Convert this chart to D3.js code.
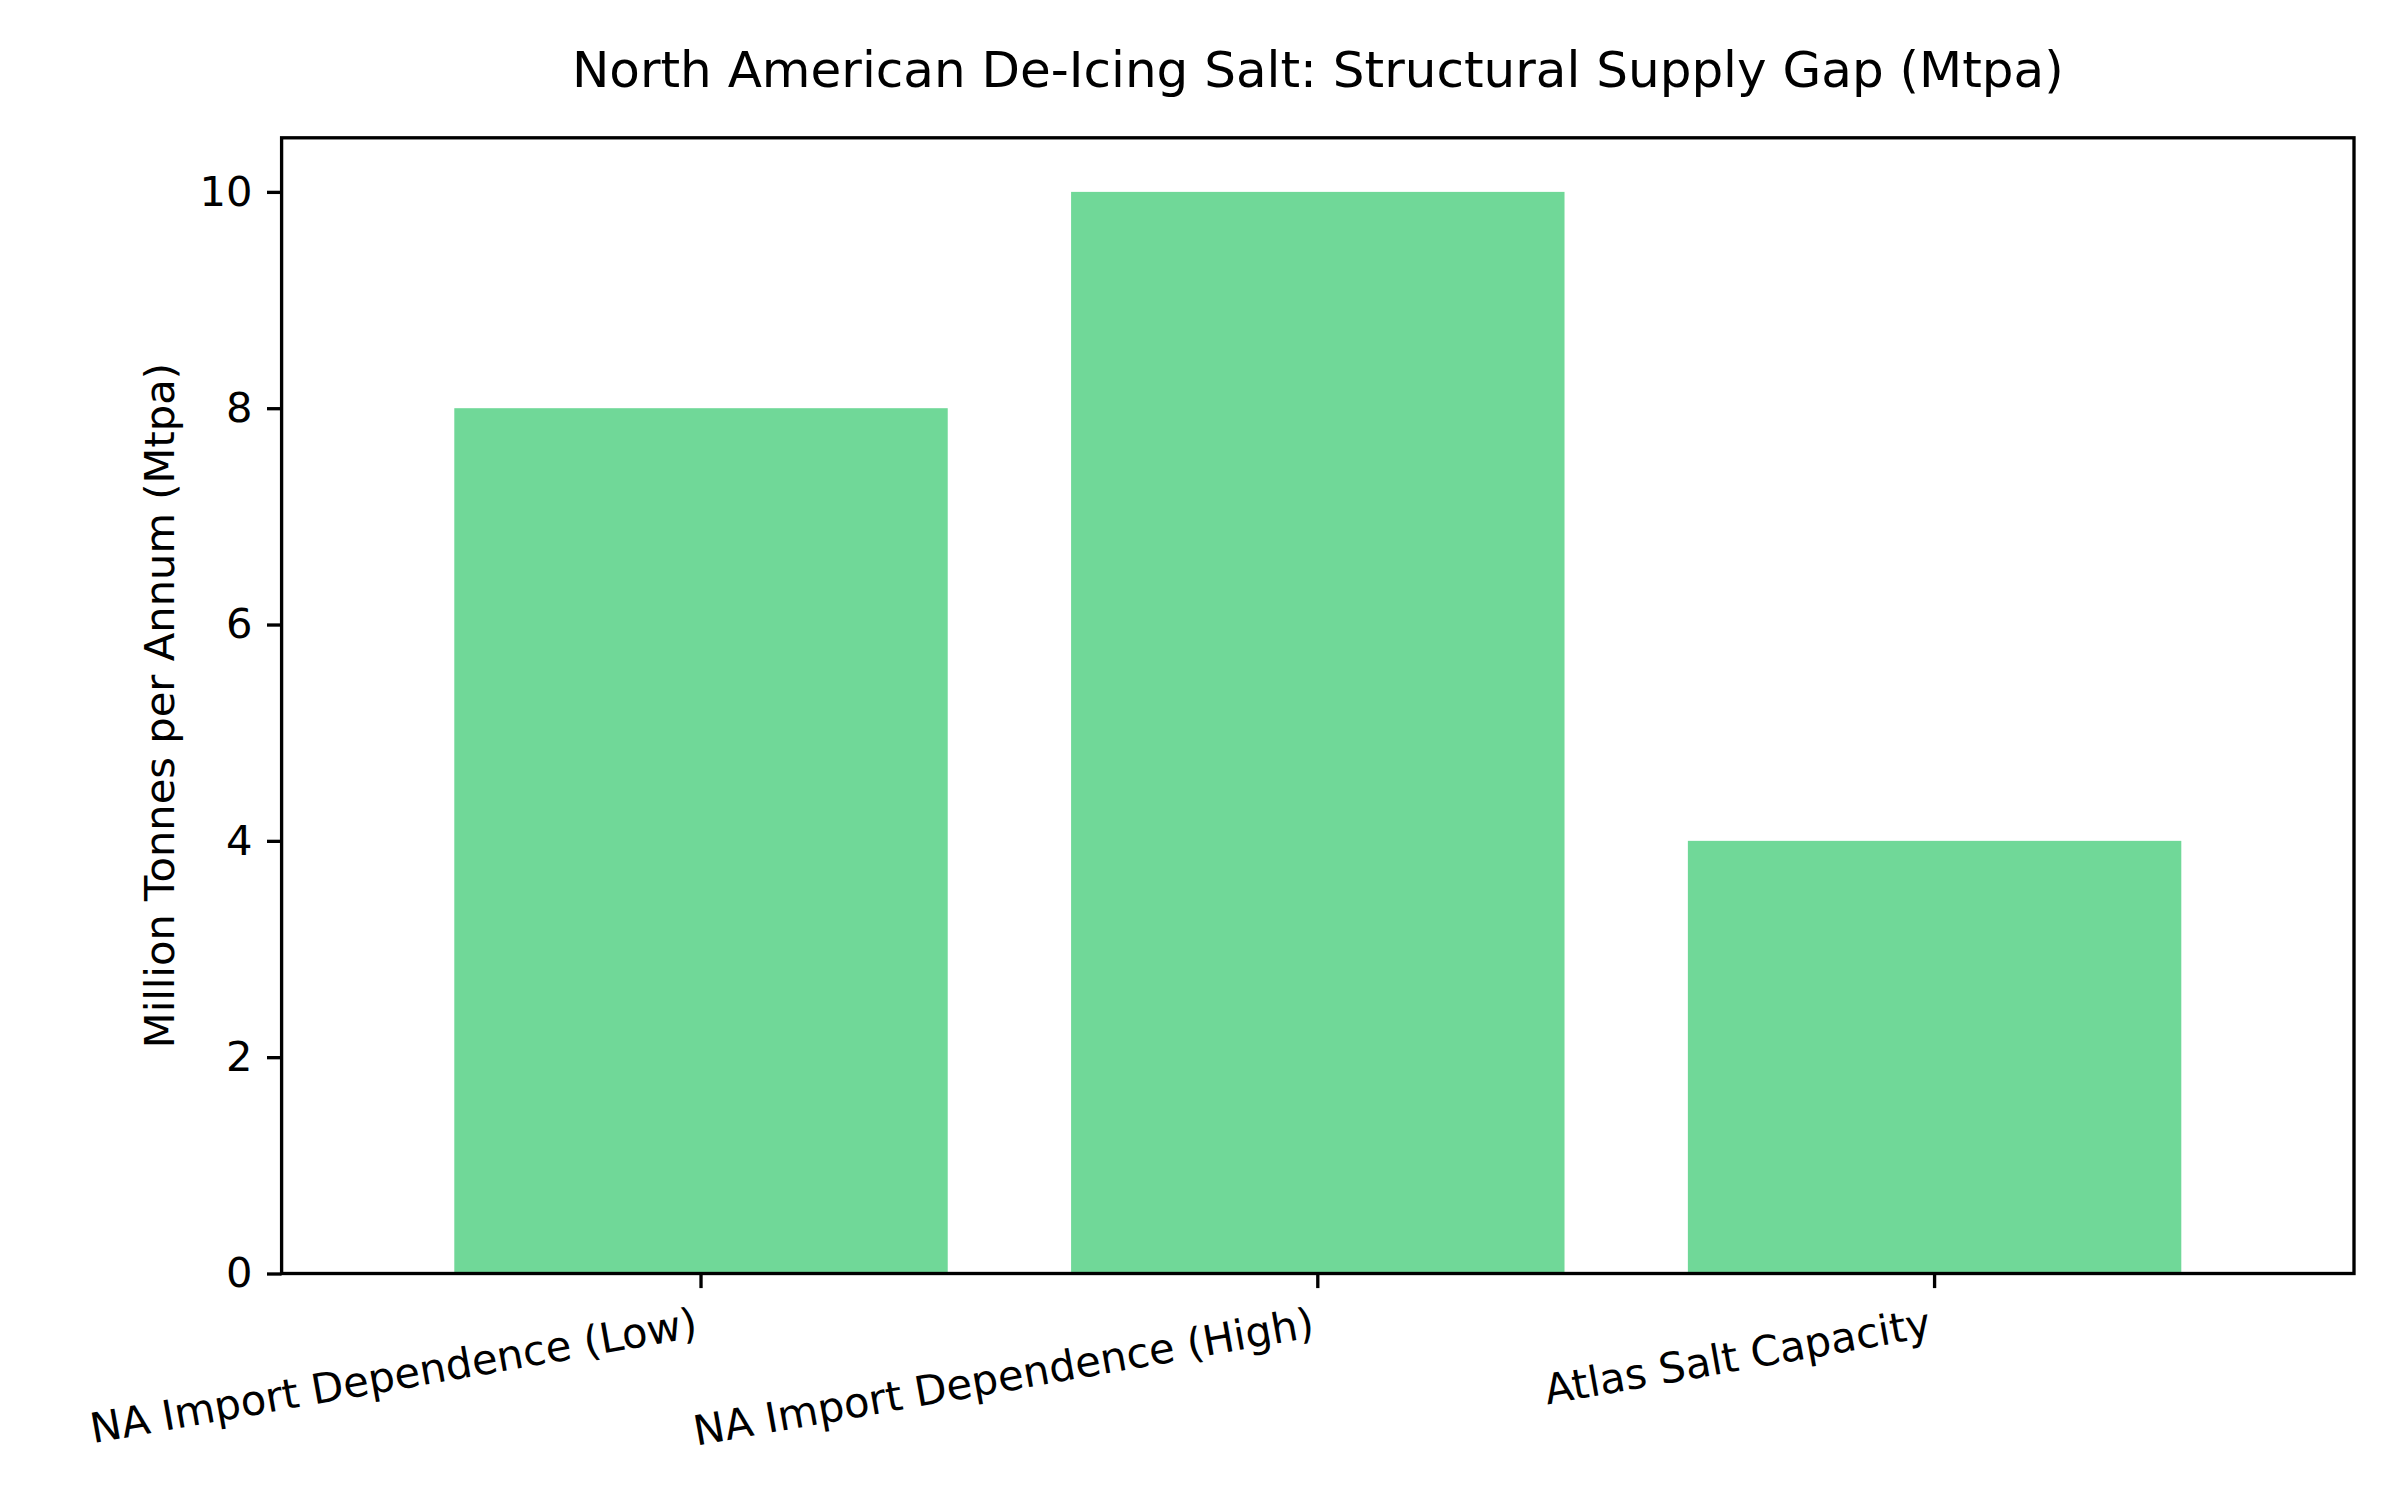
<!DOCTYPE html>
<html>
<head>
<meta charset="utf-8">
<script src="https://cdn.jsdelivr.net/npm/d3@7"></script>
<style>
  body { margin: 0; background: #fff; }
  svg { display: block; font-family: "DejaVu Sans", sans-serif; }
</style>
</head>
<body>
<svg id="chart" width="2400" height="1500"></svg>
<script>
// Chart data
const categories = ['NA Import Dependence (Low)', 'NA Import Dependence (High)', 'Atlas Salt Capacity'];
const values = [8, 10, 4];
const yTicks = [0, 2, 4, 6, 8, 10];
const titleText = 'North American De-Icing Salt: Structural Supply Gap (Mtpa)';
const yLabelText = 'Million Tonnes per Annum (Mtpa)';

(function() {
  const svg = d3.select('#chart');
  const margin = { left: 281.6, right: 2400 - 2354, top: 137.8, bottom: 1500 - 1273.5 };
  const width = 2400 - margin.left - margin.right;
  const height = 1500 - margin.top - margin.bottom;
  const tickLen = 14.6, tickPad = 14.6, lineW = 3.33;
  const fontSize = 41.67;

  const x = d3.scaleBand().domain(categories).range([0, width])
    .paddingInner(0.2).paddingOuter(0.28);
  const y = d3.scaleLinear().domain([0, 10.5]).range([height, 0]);

  const g = svg.append('g').attr('transform', `translate(${margin.left},${margin.top})`);

  // bars
  g.selectAll('rect.bar').data(values).enter().append('rect')
    .attr('class', 'bar')
    .attr('x', (d, i) => x(categories[i]))
    .attr('width', x.bandwidth())
    .attr('y', d => y(d))
    .attr('height', d => y(0) - y(d))
    .attr('fill', '#70d898');

  // y axis
  const yAxis = g.append('g').call(d3.axisLeft(y).tickValues(yTicks).tickSize(tickLen).tickPadding(tickPad));
  yAxis.select('.domain').remove();
  yAxis.selectAll('.tick line').attr('stroke', '#000').attr('stroke-width', lineW);
  yAxis.selectAll('.tick text').attr('font-size', fontSize).attr('fill', '#000')
    .attr('font-family', '"DejaVu Sans", sans-serif');

  // x axis ticks
  const xAxis = g.append('g').attr('transform', `translate(0,${height})`)
    .call(d3.axisBottom(x).tickSize(tickLen).tickFormat(''));
  xAxis.select('.domain').remove();
  xAxis.selectAll('.tick line').attr('stroke', '#000').attr('stroke-width', lineW);

  // rotated x labels, right aligned at tick
  g.selectAll('text.xlabel').data(categories).enter().append('text')
    .attr('class', 'xlabel')
    .attr('transform', d => `translate(${x(d) + x.bandwidth() / 2 - 2},${height + 63}) rotate(-10)`)
    .attr('text-anchor', 'end')
    .attr('font-size', fontSize)
    .attr('fill', '#000')
    .text(d => d);

  // frame
  g.append('rect').attr('x', 0).attr('y', 0).attr('width', width).attr('height', height)
    .attr('fill', 'none').attr('stroke', '#000').attr('stroke-width', lineW);

  // title
  svg.append('text')
    .attr('x', margin.left + width / 2)
    .attr('y', 87)
    .attr('text-anchor', 'middle')
    .attr('font-size', 50)
    .attr('fill', '#000')
    .text(titleText);

  // y label
  svg.append('text')
    .attr('transform', `translate(174,${margin.top + height / 2}) rotate(-90)`)
    .attr('text-anchor', 'middle')
    .attr('font-size', fontSize)
    .attr('fill', '#000')
    .text(yLabelText);
})();
</script>
</body>
</html>
